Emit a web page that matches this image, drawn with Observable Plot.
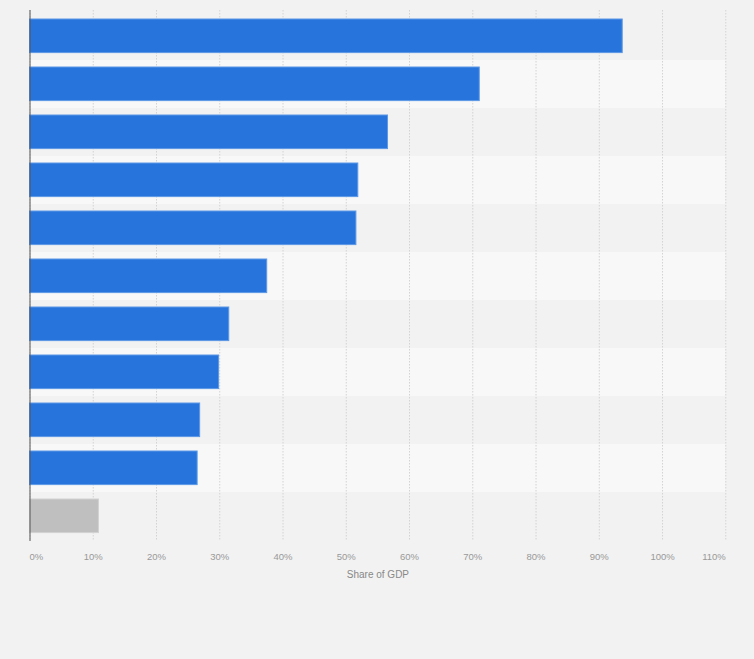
<!DOCTYPE html>
<html>
<head>
<meta charset="utf-8">
<script src="https://cdn.jsdelivr.net/npm/d3@7"></script>
<script src="https://cdn.jsdelivr.net/npm/@observablehq/plot@0.6"></script>
<style>
  html, body { margin: 0; padding: 0; background: #f2f2f2; }
  body { width: 754px; height: 659px; overflow: hidden; font-family: "Liberation Sans", Arial, sans-serif; }
  #chart svg { display: block; }
</style>
</head>
<body>
<div id="chart"></div>
<script>
// Data (share of GDP, %)
const categories = ["Item 1", "Item 2", "Item 3", "Item 4", "Item 5", "Item 6", "Item 7", "Item 8", "Item 9", "Item 10", "Average"];
const values = [93.7, 71.1, 56.6, 51.9, 51.6, 37.5, 31.5, 29.9, 26.9, 26.5, 10.9];
const highlight = [false, false, false, false, false, false, false, false, false, false, true];
const tickValues = [0, 10, 20, 30, 40, 50, 60, 70, 80, 90, 100, 110];
const xLabel = "Share of GDP";

const data = categories.map((c, i) => ({category: c, value: values[i], grey: highlight[i], idx: i}));
const pct = d => d + "%";
const axisStyle = {tickSize: 0, tickPadding: 12, fontSize: 9.5, fill: "#999", label: null, tickFormat: pct};

const chart = Plot.plot({
  width: 754,
  height: 600,
  marginTop: 10,
  marginBottom: 59,
  marginLeft: 29.5,
  marginRight: 28.7,
  style: {background: "transparent", fontFamily: "'Liberation Sans', Arial, sans-serif"},
  x: {domain: [0, 110], axis: null},
  y: {domain: categories, padding: 0, axis: null},
  marks: [
    // alternating row stripes
    Plot.barX(data, {y: "category", x1: 0, x2: 110, fill: d => d.idx % 2 === 0 ? "#f2f2f2" : "#f8f8f8"}),
    Plot.gridX(tickValues, {stroke: "#d3d3d3", strokeOpacity: 1, strokeDasharray: "1.5,1.5"}),
    Plot.barX(data, {
      y: "category", x: "value",
      insetTop: 7, insetBottom: 7.4,
      fill: d => d.grey ? "#bfbfbf" : "#2775dc",
      stroke: d => d.grey ? "#d2d2d2" : "#5c98e6",
      strokeWidth: 1
    }),
    Plot.ruleX([0], {stroke: "#555", strokeWidth: 1}),
    Plot.axisX([0], {...axisStyle, textAnchor: "start", dx: -0.5}),
    Plot.axisX(tickValues.slice(1, -1), axisStyle),
    Plot.axisX([110], {...axisStyle, textAnchor: "end"}),
    Plot.text([xLabel], {frameAnchor: "bottom", dy: 36, fontSize: 10, fill: "#888"})
  ]
});
document.getElementById("chart").appendChild(chart);
</script>
</body>
</html>
